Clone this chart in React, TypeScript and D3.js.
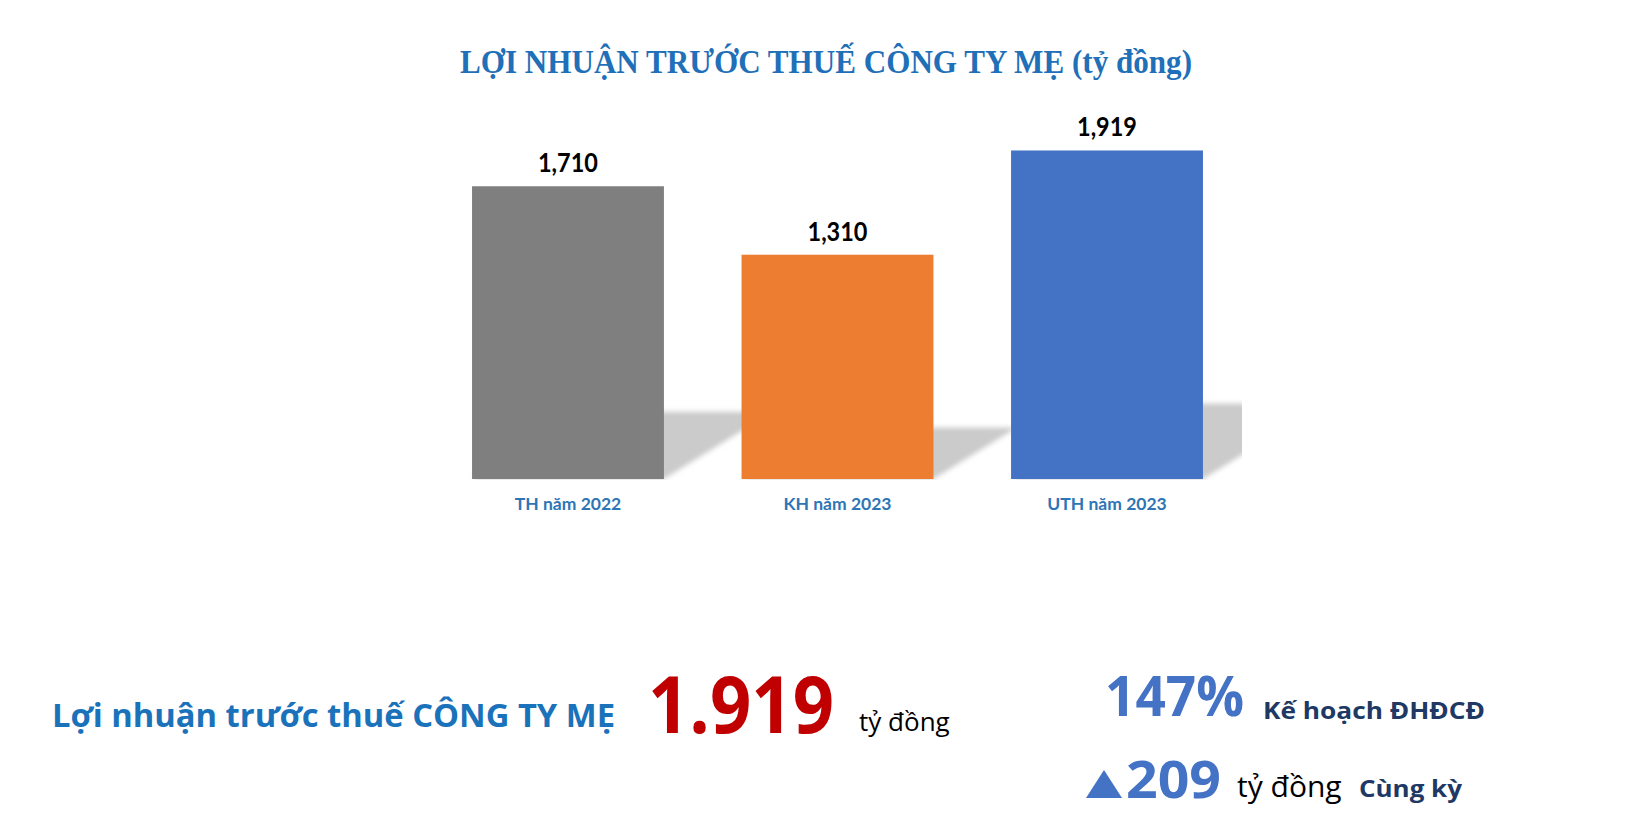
import React from "react";
import * as d3 from "d3";

// Pre-tax profit of the parent company (billion VND)
const categories = ["TH năm 2022", "KH năm 2023", "UTH năm 2023"];
const values = [1710, 1310, 1919];
const barColors = ["#7f7f7f", "#ed7d31", "#4472c4"];
const valueLabels = ["1,710", "1,310", "1,919"];

const W = 1650;
const H = 819;

const x = d3
  .scaleBand<string>()
  .domain(categories)
  .range([437, 1238])
  .paddingInner(0.288)
  .paddingOuter(0.13);

const y = d3.scaleLinear().domain([0, 2000]).range([479, 136.6]);

// floor shadow cast up and to the right of every bar
function shadowPath(cat: string, v: number): string {
  const x0 = x(cat)!;
  const x1 = x0 + x.bandwidth();
  const base = y(0);
  const h = base - y(v);
  const rise = h * 0.23;
  const run = rise * 1.62;
  const p = d3.path();
  p.moveTo(x0, base);
  p.lineTo(x1, base);
  p.lineTo(x1 + run, base - rise);
  p.lineTo(x0 + run, base - rise);
  p.closePath();
  return p.toString();
}

export default function App() {
  const sans = "'Open Sans', 'Noto Sans', sans-serif";
  const lato = "Lato, 'Open Sans', sans-serif";
  return (
    <svg
      width={W}
      height={H}
      viewBox={`0 0 ${W} ${H}`}
      style={{ display: "block", position: "absolute", left: 0, top: 0, background: "#fff" }}
    >
      <defs>
        <filter id="shadowBlur" x="-20%" y="-50%" width="140%" height="200%">
          <feGaussianBlur stdDeviation="2.5" />
        </filter>
        <clipPath id="plotClip">
          <rect x={400} y={100} width={842} height={380} />
        </clipPath>
      </defs>
      <rect x={0} y={0} width={W} height={H} fill="#fff" />

      <text
        x={460}
        y={73}
        fontFamily="'Liberation Serif', 'Times New Roman', serif"
        fontWeight="bold"
        fontSize={33}
        fill="#1f70b8"
        textLength={732}
        lengthAdjust="spacingAndGlyphs"
      >
        LỢI NHUẬN TRƯỚC THUẾ CÔNG TY MẸ (tỷ đồng)
      </text>

      <g clipPath="url(#plotClip)">
        <g filter="url(#shadowBlur)">
          {categories.map((c, i) => (
            <path key={c} d={shadowPath(c, values[i])} fill="#cbcbcb" />
          ))}
        </g>
      </g>

      {categories.map((c, i) => (
        <rect
          key={c}
          x={x(c)}
          y={y(values[i])}
          width={x.bandwidth()}
          height={y(0) - y(values[i])}
          fill={barColors[i]}
        />
      ))}

      {categories.map((c, i) => (
        <text
          key={c}
          x={x(c)! + x.bandwidth() / 2 - 30}
          y={y(values[i]) - 14}
          fontFamily={lato}
          fontWeight="bold"
          fontSize={26}
          fill="#000"
          textLength={60}
          lengthAdjust="spacingAndGlyphs"
        >
          {valueLabels[i]}
        </text>
      ))}

      {categories.map((c) => (
        <text
          key={c}
          x={x(c)! + x.bandwidth() / 2}
          y={510}
          textAnchor="middle"
          fontFamily={lato}
          fontWeight="bold"
          fontSize={17.5}
          fill="#2e75b6"
        >
          {c}
        </text>
      ))}

      {/* summary line */}
      <text
        x={52}
        y={727}
        fontFamily={sans}
        fontWeight="bold"
        fontSize={32}
        fill="#1a72bb"
        textLength={563}
        lengthAdjust="spacingAndGlyphs"
      >
        Lợi nhuận trước thuế CÔNG TY MẸ
      </text>
      <text
        x={648}
        y={733}
        fontFamily={sans}
        fontWeight="bold"
        fontSize={78}
        fill="#c00000"
        textLength={186}
        lengthAdjust="spacingAndGlyphs"
      >
        1.919
      </text>
      <text x={859} y={731} fontFamily={sans} fontSize={26} fill="#000">
        tỷ đồng
      </text>

      <text
        x={1105}
        y={716}
        fontFamily={sans}
        fontWeight="bold"
        fontSize={56}
        fill="#4472c4"
        textLength={139}
        lengthAdjust="spacingAndGlyphs"
      >
        147%
      </text>
      <text
        x={1263}
        y={719}
        fontFamily={sans}
        fontWeight="bold"
        fontSize={24}
        fill="#203864"
        textLength={222}
        lengthAdjust="spacingAndGlyphs"
      >
        Kế hoạch ĐHĐCĐ
      </text>

      <path d="M1086,798 L1104,770 L1122,798 Z" fill="#4472c4" />
      <text
        x={1126}
        y={798}
        fontFamily={sans}
        fontWeight="bold"
        fontSize={52}
        fill="#4472c4"
        textLength={95}
        lengthAdjust="spacingAndGlyphs"
      >
        209
      </text>
      <text x={1237} y={797} fontFamily={sans} fontSize={30} fill="#000">
        tỷ đồng
      </text>
      <text
        x={1359}
        y={797}
        fontFamily={sans}
        fontWeight="bold"
        fontSize={24}
        fill="#203864"
        textLength={103}
        lengthAdjust="spacingAndGlyphs"
      >
        Cùng kỳ
      </text>
    </svg>
  );
}
